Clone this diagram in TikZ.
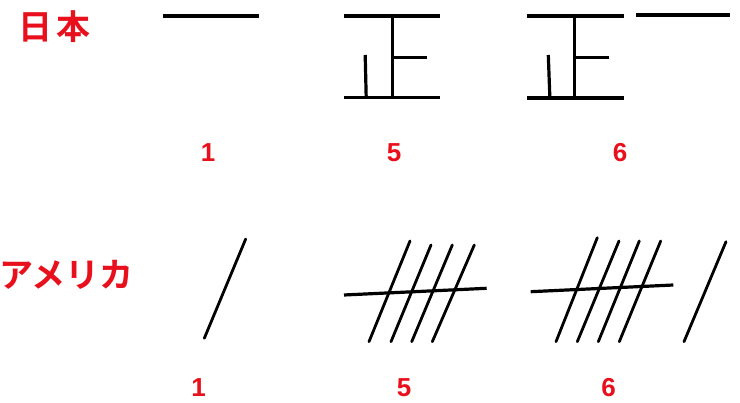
\documentclass[tikz,border=0pt]{standalone}
\usepackage{fontspec}
\setmainfont{Liberation Sans}
\newfontfamily\jpfont{Noto Sans CJK JP}[BoldFont={Noto Sans CJK JP Bold}]
\definecolor{lbl}{RGB}{232,16,28}
\begin{document}
\begin{tikzpicture}[x=1pt,y=-1pt,
  stroke/.style={line width=3.2pt,black},
  tally/.style={line width=2.8pt,black,line cap=round},
  title/.style={text=lbl,font=\jpfont\bfseries\fontsize{34}{34}\selectfont,inner sep=0pt},
  num/.style={text=lbl,font=\bfseries\fontsize{26}{26}\selectfont,inner sep=0pt}]
\useasboundingbox[fill=white] (0,0) rectangle (740,403);
% labels
\node[title] (jp) at (54.5,27) {日\kern5pt本};
\node[title,anchor=west] (us) at (-1,275) {アメリカ};
% top row
\draw[stroke] (163,16) -- (259,16);
% 正 (5)
\draw[stroke] (344,16) -- (440,16);
\draw[stroke] (392.3,16) -- (392.3,97.7);
\draw[stroke] (392.3,57.7) -- (427,57.7);
\draw[stroke] (365.2,55) -- (366.2,97.7);
\draw[stroke] (344,97.7) -- (440,97.7);
% 正 + 一 (6)
\draw[stroke] (527,16) -- (624,16);
\draw[stroke] (574.3,16) -- (574.3,98);
\draw[stroke] (574.3,57.7) -- (609,57.7);
\draw[stroke] (548.3,55) -- (549.8,96);
\draw[stroke] (527,98) -- (624,98);
\draw[stroke] (636,15) -- (730,15);
% numbers top
\node[num] (t1) at (208,152.7) {1};
\node[num] (t5) at (394,152.7) {5};
\node[num] (t6) at (620,152.7) {6};
% bottom row
\draw[tally] (245.7,239) -- (204.3,338.3);
% 5
\draw[tally] (410,241) -- (369,341.7);
\draw[tally] (431,245) -- (391,341.7);
\draw[tally] (452.3,245) -- (411.7,341.7);
\draw[tally] (474.3,245) -- (432.3,341.7);
\draw[stroke] (344,295) -- (486.7,288.3);
% 6
\draw[tally] (597.3,237.7) -- (556,341.7);
\draw[tally] (619,241) -- (577.3,341.7);
\draw[tally] (639.3,241) -- (598.3,341.7);
\draw[tally] (660.7,241) -- (619.3,341.7);
\draw[stroke] (530.7,291.7) -- (673.3,285);
\draw[tally] (726,241.7) -- (684,341.7);
% numbers bottom
\node[num] (b1) at (198.7,388) {1};
\node[num] (b5) at (404,388) {5};
\node[num] (b6) at (608.5,388) {6};
\end{tikzpicture}
\end{document}
